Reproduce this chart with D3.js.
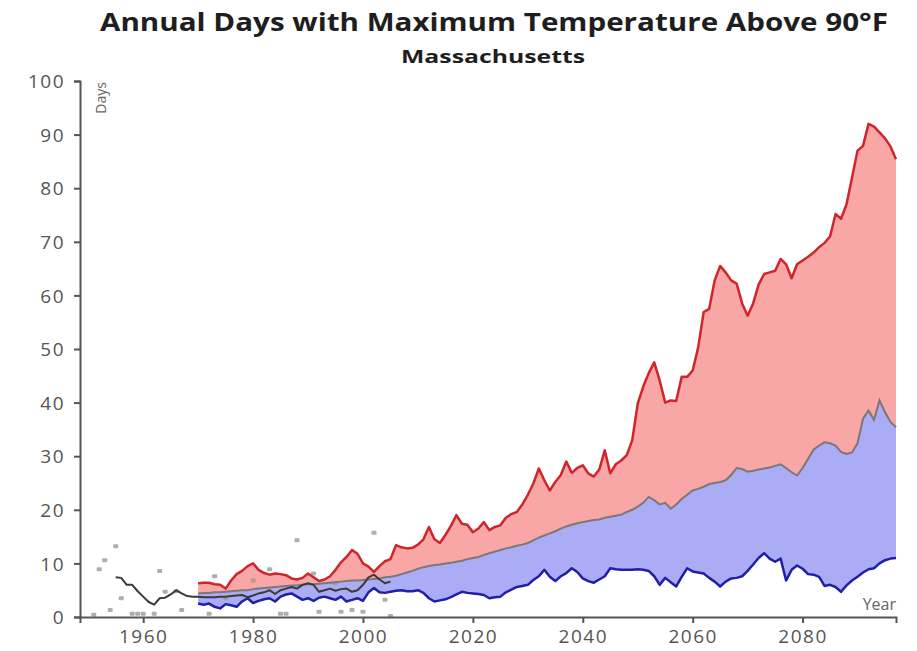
<!DOCTYPE html>
<html>
<head>
<meta charset="utf-8">
<script src="https://cdn.jsdelivr.net/npm/d3@7"></script>
<style>
  html, body { margin: 0; padding: 0; background: #fff; }
  svg { display: block; }
  text { font-family: "Open Sans", "Lato", sans-serif; }
</style>
</head>
<body>
<svg id="chart" width="917" height="651"></svg>
<script>
// Projection years
const projYears = d3.range(1970, 2098);

// Upper projection (higher emissions)
const upperDays = [
  6.3, 6.4, 6.4, 6.1, 6.0, 5.3, 6.8, 8.0, 8.6, 9.5,
  10.0, 8.8, 8.2, 7.9, 8.1, 8.0, 7.8, 7.2, 7.0, 7.3,
  8.1, 7.4, 6.7, 7.0, 7.6, 8.8, 10.2, 11.2, 12.5, 11.8,
  10.0, 9.4, 8.4, 9.5, 10.4, 10.8, 13.4, 13.0, 12.8, 12.9,
  13.5, 14.5, 16.8, 14.5, 13.8, 15.3, 17.0, 19.0, 17.4, 17.2,
  15.8, 16.5, 17.7, 16.2, 16.8, 17.1, 18.5, 19.2, 19.6, 21.0,
  22.8, 24.9, 27.7, 25.5, 23.6, 25.2, 26.5, 29.0, 26.9, 27.8,
  28.3, 26.8, 26.2, 27.5, 31.1, 26.8, 28.5, 29.2, 30.2, 33.0,
  39.8, 43.0, 45.5, 47.5, 44.1, 40.0, 40.4, 40.3, 44.8, 44.8,
  46.0, 50.3, 56.9, 57.5, 62.8, 65.5, 64.3, 62.8, 62.2, 58.5,
  56.2, 58.5, 62.0, 64.0, 64.3, 64.6, 66.8, 65.8, 63.2, 65.8,
  66.5, 67.2, 68.0, 69.0, 69.8, 71.0, 75.2, 74.3, 77.0, 82.0,
  87.0, 87.9, 92.0, 91.5, 90.4, 89.3, 87.8, 85.4
];

// Middle line dividing the two shaded ranges
const middleDays = [
  4.4, 4.5, 4.5, 4.6, 4.6, 4.7, 4.8, 4.9, 5.0, 5.0,
  5.2, 5.3, 5.4, 5.5, 5.6, 5.7, 5.8, 5.9, 5.9, 6.0,
  6.1, 6.1, 6.2, 6.3, 6.4, 6.5, 6.6, 6.7, 6.8, 6.8,
  6.9, 7.0, 7.1, 7.2, 7.4, 7.5, 7.7, 8.0, 8.3, 8.6,
  9.0, 9.3, 9.5, 9.7, 9.8, 10.0, 10.1, 10.3, 10.5, 10.8,
  11.0, 11.2, 11.6, 11.9, 12.2, 12.5, 12.8, 13.0, 13.3, 13.5,
  13.8, 14.3, 14.8, 15.2, 15.6, 16.0, 16.5, 16.9, 17.2, 17.5,
  17.7, 17.9, 18.1, 18.2, 18.5, 18.7, 18.9, 19.1, 19.6, 20.0,
  20.6, 21.3, 22.4, 21.8, 21.0, 21.3, 20.2, 21.0, 22.0, 22.8,
  23.6, 23.9, 24.3, 24.8, 25.0, 25.2, 25.5, 26.5, 27.8, 27.6,
  27.1, 27.3, 27.5, 27.7, 27.9, 28.2, 28.5, 27.8, 27.0, 26.4,
  27.8, 29.5, 31.2, 32.0, 32.6, 32.4, 32.0, 30.8, 30.4, 30.7,
  32.4, 37.0, 38.5, 36.8, 40.4, 38.2, 36.4, 35.4
];

// Lower projection (lower emissions)
const lowerDays = [
  2.5, 2.3, 2.5, 1.9, 1.6, 2.4, 2.2, 1.9, 2.9, 3.5,
  2.6, 3.0, 3.3, 3.5, 2.9, 3.8, 4.2, 4.4, 3.8, 3.2,
  3.5, 3.0, 3.6, 3.8, 3.5, 3.2, 3.8, 2.9, 3.2, 3.5,
  3.0, 4.6, 5.4, 4.6, 4.5, 4.7, 4.9, 5.0, 4.8, 4.8,
  5.0, 4.5, 3.5, 2.9, 3.1, 3.3, 3.7, 4.2, 4.7, 4.5,
  4.4, 4.3, 4.1, 3.5, 3.7, 3.8, 4.6, 5.1, 5.6, 5.8,
  6.0, 6.9, 7.6, 8.8, 7.5, 6.7, 7.6, 8.2, 9.1, 8.4,
  7.2, 6.7, 6.4, 7.0, 7.6, 9.1, 8.9, 8.8, 8.8, 8.8,
  8.9, 8.8, 8.6, 7.6, 6.0, 7.3, 6.5, 5.7, 7.5, 9.1,
  8.5, 8.3, 8.1, 7.3, 6.6, 5.7, 6.6, 7.2, 7.3, 7.6,
  8.6, 9.8, 11.0, 11.9, 10.9, 10.3, 10.9, 6.8, 8.8, 9.6,
  9.0, 8.0, 7.9, 7.5, 5.8, 6.0, 5.6, 4.7, 5.9, 6.8,
  7.5, 8.3, 8.9, 9.1, 10.0, 10.6, 10.9, 11.0
];

// Observed, smoothed
const obsYears = d3.range(1955, 2006);
const obsSmooth = [
  7.4, 7.3, 6.0, 6.0, 4.8, 3.8, 2.8, 2.3, 3.5, 3.6,
  4.2, 5.0, 4.4, 3.9, 3.8, 3.8, 3.7, 3.7, 3.7, 3.8,
  3.8, 3.9, 4.0, 4.1, 3.7, 4.0, 4.4, 4.6, 5.0, 4.3,
  5.0, 5.3, 5.6, 5.3, 6.0, 6.3, 6.0, 4.7, 5.0, 5.3,
  4.9, 5.2, 5.3, 4.7, 5.0, 6.0, 7.4, 7.9, 7.0, 6.3,
  6.6
];

// Observed annual counts
const obsPointYears = [1951, 1952, 1953, 1954, 1955, 1956, 1958, 1959, 1960, 1962,
  1963, 1964, 1966, 1967, 1972, 1973, 1975, 1980, 1983, 1985,
  1986, 1988, 1991, 1992, 1995, 1996, 1998, 2000, 2002, 2004, 2005];
const obsPointDays = [0.4, 8.9, 10.6, 1.3, 13.2, 3.5, 0.6, 0.6, 0.6, 0.6,
  8.6, 4.7, 4.8, 1.3, 0.6, 7.6, 3.5, 6.8, 8.9, 0.6,
  0.6, 14.3, 8.1, 1.0, 6.3, 1.0, 1.3, 1.0, 15.7, 3.2, 0.2];

const xTicks = [1960, 1980, 2000, 2020, 2040, 2060, 2080];
const yTicks = [0, 10, 20, 30, 40, 50, 60, 70, 80, 90, 100];

const svg = d3.select("#chart");
const plotLeft = 80, plotRight = 896, plotTop = 81, plotBottom = 617;

const x = d3.scaleLinear().domain([1948.5, 2097]).range([plotLeft, plotRight]);
const y = d3.scaleLinear().domain([0, 100]).range([plotBottom, plotTop]);

const proj = projYears.map((yr, i) => ({
  year: yr, hi: upperDays[i], mid: middleDays[i], lo: lowerDays[i]
}));
const obs = obsYears.map((yr, i) => ({ year: yr, v: obsSmooth[i] }));
const pts = obsPointYears.map((yr, i) => ({ year: yr, v: obsPointDays[i] }));

// Shaded ranges
svg.append("path")
  .datum(proj)
  .attr("fill", "#f8a6a6")
  .attr("d", d3.area().x(d => x(d.year)).y0(d => y(d.mid)).y1(d => y(d.hi)));
svg.append("path")
  .datum(proj)
  .attr("fill", "#aaacf6")
  .attr("d", d3.area().x(d => x(d.year)).y0(d => y(d.lo)).y1(d => y(d.mid)));

// Observed annual points
svg.append("g")
  .selectAll("rect")
  .data(pts)
  .join("rect")
  .attr("x", d => x(d.year) - 2.5)
  .attr("y", d => y(d.v) - 2)
  .attr("width", 5)
  .attr("height", 4)
  .attr("rx", 1)
  .attr("fill", "#9a9a9a")
  .attr("opacity", 0.8);

const line = key => d3.line().x(d => x(d.year)).y(d => y(d[key]));

svg.append("path").datum(proj)
  .attr("fill", "none").attr("stroke", "#7d7777").attr("stroke-width", 2)
  .attr("d", line("mid"));
svg.append("path").datum(proj)
  .attr("fill", "none").attr("stroke", "#d0252b").attr("stroke-width", 2.5)
  .attr("stroke-linejoin", "round")
  .attr("d", line("hi"));
svg.append("path").datum(proj)
  .attr("fill", "none").attr("stroke", "#1f1fa8").attr("stroke-width", 2.5)
  .attr("stroke-linejoin", "round")
  .attr("d", line("lo"));
svg.append("path").datum(obs)
  .attr("fill", "none").attr("stroke", "#3a3a3a").attr("stroke-width", 2)
  .attr("stroke-linejoin", "round")
  .attr("d", line("v"));

// Axes
const axisColor = "#555";
const gx = svg.append("g")
  .attr("transform", `translate(0,${plotBottom})`)
  .call(d3.axisBottom(x).tickValues(xTicks).tickFormat(d3.format("d")).tickSize(6));
const gy = svg.append("g")
  .attr("transform", `translate(${plotLeft},0)`)
  .call(d3.axisLeft(y).tickValues(yTicks).tickSize(6));

[gx, gy].forEach(g => {
  g.select(".domain").attr("stroke", axisColor).attr("stroke-width", 2);
  g.selectAll(".tick line").attr("stroke", axisColor).attr("stroke-width", 2);
  g.selectAll(".tick text")
    .attr("fill", "#555")
    .style("font-family", "'Open Sans', sans-serif")
    .style("font-size", "19px")
    .style("letter-spacing", "1.5px");
});
gx.selectAll(".tick text").attr("y", 8).attr("dy", "0.95em");
gy.selectAll(".tick text").attr("x", -15).attr("dy", "0.35em");

// Axis titles
svg.append("text")
  .attr("transform", "translate(106,82) rotate(-90)")
  .attr("text-anchor", "end")
  .attr("fill", "#666")
  .style("font-size", "14px")
  .text("Days");
svg.append("text")
  .attr("x", 896).attr("y", 610)
  .attr("text-anchor", "end")
  .attr("fill", "#666")
  .style("font-size", "16px")
  .text("Year");

// Titles
svg.append("text")
  .attr("x", 494).attr("y", 31)
  .attr("text-anchor", "middle")
  .attr("fill", "#1e1e1e")
  .attr("textLength", 788)
  .attr("lengthAdjust", "spacingAndGlyphs")
  .style("font-size", "25px")
  .style("font-weight", "700")
  .text("Annual Days with Maximum Temperature Above 90°F");
svg.append("text")
  .attr("x", 493).attr("y", 63)
  .attr("text-anchor", "middle")
  .attr("fill", "#1e1e1e")
  .attr("textLength", 184)
  .attr("lengthAdjust", "spacingAndGlyphs")
  .style("font-size", "17px")
  .style("font-weight", "700")
  .text("Massachusetts");
</script>
</body>
</html>
